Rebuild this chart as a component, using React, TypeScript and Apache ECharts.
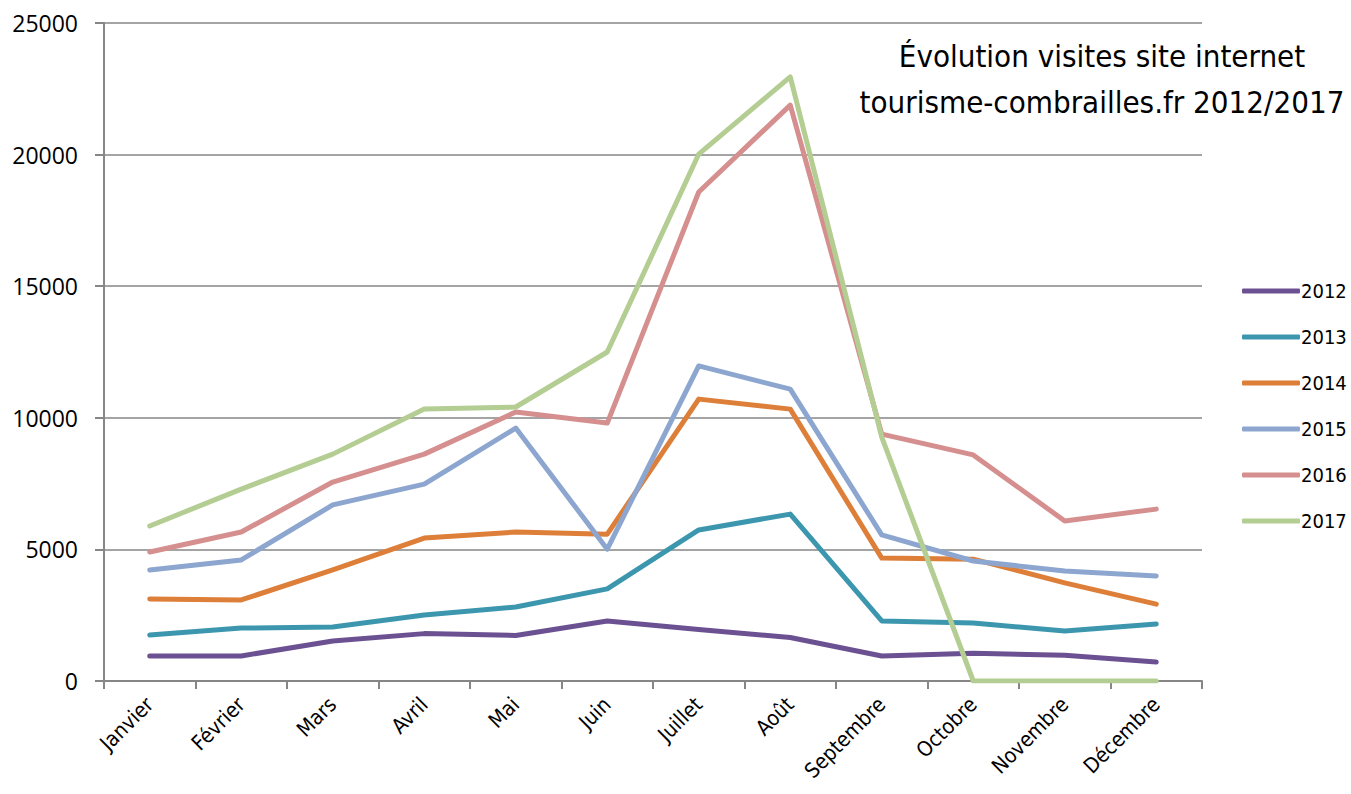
import React, { useEffect, useRef } from "react";
import * as echarts from "echarts";

const months = ["Janvier", "Février", "Mars", "Avril", "Mai", "Juin", "Juillet", "Août", "Septembre", "Octobre", "Novembre", "Décembre"];
const years = ["2012", "2013", "2014", "2015", "2016", "2017"];
const colors = ["#6B5192", "#3C97AE", "#DD7F38", "#8CA6CF", "#D48F8E", "#B3CD92"];
const v2012 = [950, 950, 1520, 1800, 1730, 2280, 1960, 1650, 950, 1050, 980, 720];
const v2013 = [1750, 2010, 2050, 2510, 2810, 3500, 5740, 6340, 2280, 2200, 1900, 2170];
const v2014 = [3120, 3080, 4220, 5430, 5660, 5580, 10710, 10330, 4670, 4630, 3730, 2920];
const v2015 = [4220, 4600, 6690, 7480, 9610, 5010, 11970, 11090, 5550, 4560, 4180, 3990];
const v2016 = [4900, 5660, 7560, 8620, 10220, 9800, 18580, 21880, 9380, 8590, 6080, 6530];
const v2017 = [5890, 7290, 8620, 10330, 10410, 12500, 20020, 22950, 9270, 0, 0, 0];
const allValues = [v2012, v2013, v2014, v2015, v2016, v2017];
const titleLines = ["Évolution visites site internet", "tourisme-combrailles.fr 2012/2017"];

const squareFont = "'DejaVu Sans Condensed', 'DejaVu Sans', sans-serif";

export default function App() {
  const ref = useRef<HTMLDivElement>(null);
  useEffect(() => {
    if (!ref.current) return;
    const chart = echarts.init(ref.current, null, { renderer: "svg" });
    chart.setOption({
      animation: false,
      backgroundColor: "#ffffff",
      graphic: titleLines.map((t, i) => ({
        type: "text",
        x: 1102,
        y: 40 + i * 46,
        style: {
          text: t,
          fontFamily: squareFont,
          fontSize: 31,
          fill: "#000",
          textAlign: "center",
          textVerticalAlign: "top",
        },
      })),
      legend: {
        orient: "vertical",
        left: 1242,
        top: 281,
        padding: 0,
        itemWidth: 58,
        itemHeight: 5,
        itemGap: 26,
        icon: "roundRect",
        textStyle: { fontFamily: squareFont, fontSize: 20, color: "#000", padding: [0, 0, 0, -4] },
        data: years,
      },
      grid: { left: 104, right: 149, top: 23, bottom: 113, containLabel: false },
      xAxis: {
        type: "category",
        data: months,
        boundaryGap: true,
        axisLine: { lineStyle: { color: "#868686", width: 2 } },
        axisTick: { show: true, length: 8, lineStyle: { color: "#868686", width: 2 } },
        axisLabel: {
          rotate: 45,
          interval: 0,
          margin: 20,
          fontFamily: squareFont,
          fontSize: 21,
          color: "#000",
        },
      },
      yAxis: {
        type: "value",
        min: 0,
        max: 25000,
        interval: 5000,
        axisLine: { show: true, lineStyle: { color: "#868686", width: 2 } },
        axisTick: { show: true, length: 9, lineStyle: { color: "#868686", width: 2 } },
        splitLine: { lineStyle: { color: "#868686", width: 1.5 } },
        axisLabel: {
          margin: 26,
          fontFamily: "'Open Sans', 'DejaVu Sans', sans-serif",
          fontSize: 23,
          color: "#000",
          formatter: (v: number) => String(v),
        },
      },
      series: years.map((y, i) => ({
        name: y,
        type: "line",
        data: allValues[i],
        symbol: "none",
        color: colors[i],
        lineStyle: { width: 5, color: colors[i], cap: "round", join: "round" },
        itemStyle: { color: colors[i] },
      })),
    });
    return () => chart.dispose();
  }, []);
  return <div ref={ref} style={{ position: "fixed", left: 0, top: 0, width: 1351, height: 794 }} />;
}
